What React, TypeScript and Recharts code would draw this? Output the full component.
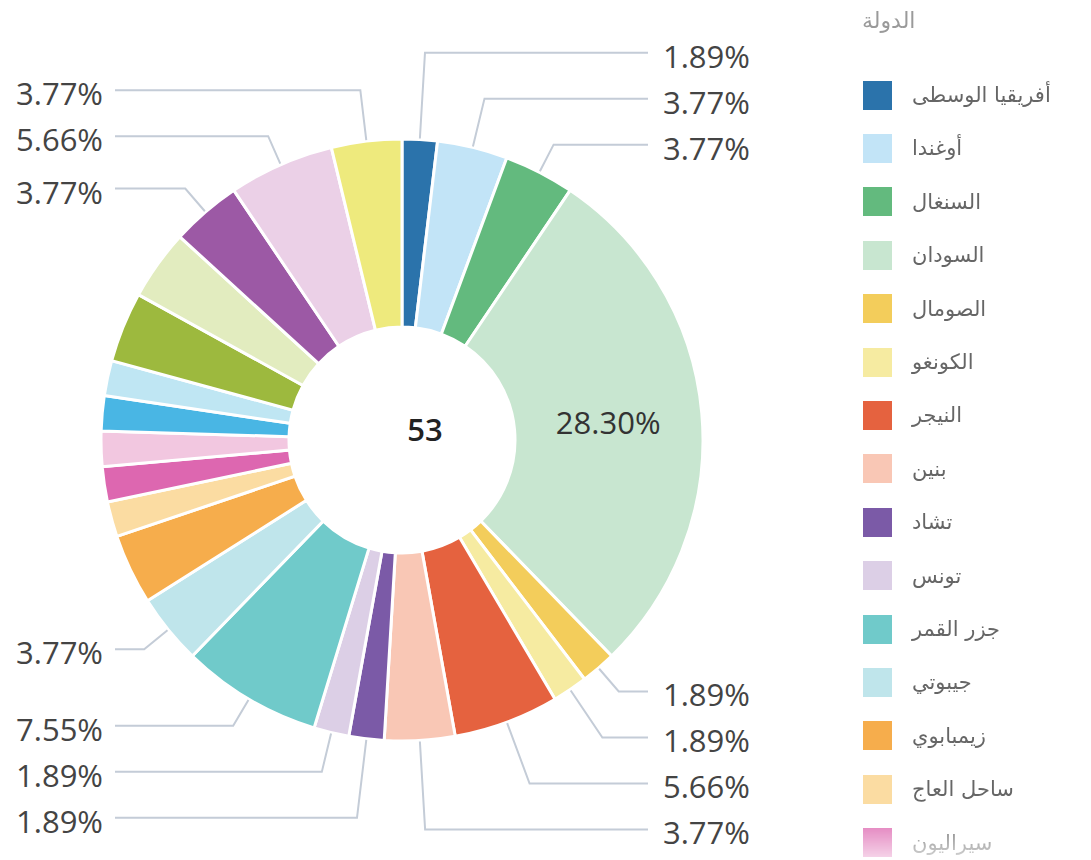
import React from 'react';
import { PieChart, Pie, Cell, Legend, Label } from 'recharts';

const legendTitle = 'الدولة';

const countries = [
  'أفريقيا الوسطى',
  'أوغندا',
  'السنغال',
  'السودان',
  'الصومال',
  'الكونغو',
  'النيجر',
  'بنين',
  'تشاد',
  'تونس',
  'جزر القمر',
  'جيبوتي',
  'زيمبابوي',
  'ساحل العاج',
  'سيراليون',
  'غامبيا',
  'غانا',
  'غينيا',
  'كينيا',
  'ليبيا',
  'مالي',
  'موريتانيا',
  'نيجيريا',
];

const counts = [1, 2, 2, 15, 1, 1, 3, 2, 1, 1, 4, 2, 2, 1, 1, 1, 1, 1, 2, 2, 2, 3, 2];

const colors = [
  '#2b73ab', '#c2e4f7', '#63ba7e', '#c8e6d0', '#f3cd5b', '#f6eba1',
  '#e5623f', '#f9c7b5', '#7b5aa7', '#dccfe6', '#70caca', '#bfe5eb',
  '#f6ad4c', '#fbdca2', '#dd67b0', '#f2c7e0', '#49b6e4', '#bfe6f3',
  '#9db93e', '#e2ecbf', '#9c59a5', '#ebd0e7', '#eeea7d',
];

// slices whose percentage is written outside the ring
const labelledCountries = [
  'أفريقيا الوسطى', 'أوغندا', 'السنغال', 'الصومال', 'الكونغو', 'النيجر',
  'بنين', 'تشاد', 'تونس', 'جزر القمر', 'جيبوتي', 'مالي', 'موريتانيا', 'نيجيريا',
];

// the legend box only has room for the first entries (rest is scrolled away)
const legendVisible = 15;

const W = 1091;
const H = 860;
const CX = 402;
const CY = 440;
const R_IN = 113;
const R_OUT = 301;
const LABEL_R = 332;
const LABEL_GAP = 46;
const RAD = Math.PI / 180;
const LINE_COLOR = '#c4ccd7';
const FONT = "'Open Sans', 'Segoe UI', sans-serif";

const total = counts.reduce((a, b) => a + b, 0);
const data = countries.map((name, i) => ({ name, value: counts[i] }));

// mid angle of each slice (start at 12 o'clock, clockwise)
const midAngles = (() => {
  let acc = 0;
  return counts.map((v) => {
    const m = 90 - (360 * (acc + v / 2)) / total;
    acc += v;
    return m;
  });
})();

// spread outside labels so they don't collide
const labelY: Record<number, number> = {};
(() => {
  const groups: Record<string, { i: number; y: number }[]> = { ru: [], rd: [], lu: [], ld: [] };
  countries.forEach((n, i) => {
    if (!labelledCountries.includes(n)) return;
    const a = midAngles[i] * RAD;
    const y = CY - LABEL_R * Math.sin(a);
    const side = Math.cos(a) >= 0 ? 'r' : 'l';
    groups[side + (y < CY ? 'u' : 'd')].push({ i, y });
  });
  ['ru', 'lu'].forEach((k) => {
    const g = groups[k].sort((a, b) => b.y - a.y);
    let prev = Infinity;
    g.forEach((it) => {
      const y = Math.min(it.y, prev - LABEL_GAP);
      labelY[it.i] = y;
      prev = y;
    });
  });
  ['rd', 'ld'].forEach((k) => {
    const g = groups[k].sort((a, b) => a.y - b.y);
    let prev = -Infinity;
    g.forEach((it) => {
      const y = Math.max(it.y, prev + LABEL_GAP);
      labelY[it.i] = y;
      prev = y;
    });
  });
})();

const renderLabel = (props: any) => {
  const { index } = props;
  const cx = props.cx ?? CX;
  const cy = props.cy ?? CY;
  const share = counts[index] / total;
  const text = (share * 100).toFixed(2) + '%';
  const a = (props.midAngle ?? midAngles[index]) * RAD;

  if (share > 0.2) {
    const r = (R_IN + R_OUT) / 2;
    return (
      <text
        x={cx + r * Math.cos(a)}
        y={cy - r * Math.sin(a)}
        textAnchor="middle"
        dominantBaseline="central"
        fill="#333"
        fontSize={31}
        fontFamily={FONT}
      >
        {text}
      </text>
    );
  }
  if (labelY[index] === undefined) return <g />;

  const ly = labelY[index];
  const right = Math.cos(a) >= 0;
  const sx = cx + (R_OUT + 1) * Math.cos(a);
  const sy = cy - (R_OUT + 1) * Math.sin(a);
  const rho = (cy - ly) / Math.sin(a);
  const ex = cx + rho * Math.cos(a);
  const endX = right ? 648 : 115;

  return (
    <g>
      <path
        d={`M${sx},${sy}L${ex},${ly}L${endX},${ly}`}
        fill="none"
        stroke={LINE_COLOR}
        strokeWidth={2}
      />
      <text
        x={right ? 663 : 103}
        y={ly + 3}
        textAnchor={right ? 'start' : 'end'}
        dominantBaseline="central"
        fill="#444"
        fontSize={31}
        fontFamily={FONT}
      >
        {text}
      </text>
    </g>
  );
};

const CountryLegend = () => (
  <div
    style={{
      position: 'relative',
      width: 241,
      height: H,
      direction: 'ltr',
      WebkitMaskImage: 'linear-gradient(to bottom, #000 812px, rgba(0,0,0,0.25) 860px)',
      maskImage: 'linear-gradient(to bottom, #000 812px, rgba(0,0,0,0.25) 860px)',
    }}
  >
    <div
      style={{
        position: 'absolute',
        left: 12,
        top: 6,
        fontSize: 22,
        color: '#9a9a9a',
        fontFamily: "'DejaVu Sans', sans-serif",
        lineHeight: '30px',
      }}
    >
      {legendTitle}
    </div>
    {countries.slice(0, legendVisible).map((name, i) => (
      <div
        key={name}
        style={{
          position: 'absolute',
          left: 13,
          top: 68 + i * 53.4,
          height: 54,
          display: 'flex',
          alignItems: 'center',
        }}
      >
        <div style={{ width: 29, height: 29, background: colors[i], flex: 'none' }} />
        <div
          style={{
            marginLeft: 20,
            fontSize: 21,
            lineHeight: '24px',
            color: '#666',
            fontFamily: "'DejaVu Sans', sans-serif",
            whiteSpace: 'nowrap',
            textAlign: 'left',
          }}
        >
          {name}
        </div>
      </div>
    ))}
  </div>
);

export default function App() {
  return (
    <div
      style={{
        position: 'absolute',
        left: 0,
        top: 0,
        width: W,
        height: H,
        overflow: 'hidden',
        background: '#fff',
      }}
    >
      <PieChart width={W} height={H} margin={{ top: 0, right: 0, bottom: 0, left: 0 }}>
        <Pie
          data={data}
          dataKey="value"
          nameKey="name"
          cx={CX}
          cy={CY}
          innerRadius={R_IN}
          outerRadius={R_OUT}
          startAngle={90}
          endAngle={-270}
          stroke="#fff"
          strokeWidth={3}
          label={renderLabel}
          labelLine={false}
          isAnimationActive={false}
        >
          {data.map((d, i) => (
            <Cell key={d.name} fill={colors[i]} />
          ))}
          <Label
            value={total}
            position="center"
            fill="#222"
            fontSize={31}
            fontWeight={600}
            fontFamily={FONT}
          />
        </Pie>
        <Legend
          layout="vertical"
          align="right"
          verticalAlign="top"
          wrapperStyle={{ left: 850, top: 0, width: 241, height: H }}
          content={() => <CountryLegend />}
        />
      </PieChart>
    </div>
  );
}
